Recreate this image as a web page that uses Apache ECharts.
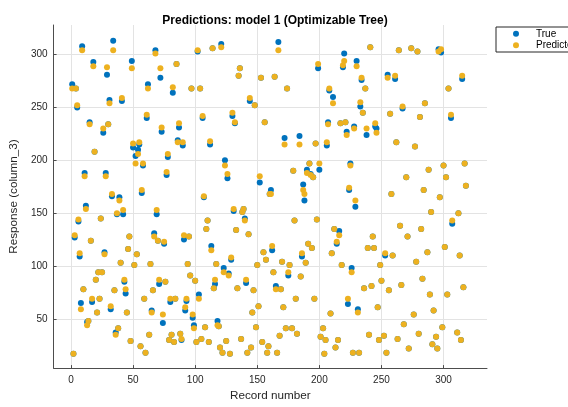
<!DOCTYPE html>
<html>
<head>
<meta charset="utf-8">
<script src="https://cdn.jsdelivr.net/npm/echarts@6/dist/echarts.min.js"></script>
<style>
html,body{margin:0;padding:0;background:#fff;}
#chart{width:568px;height:407px;}
</style>
</head>
<body>
<div id="chart"></div>
<script>
const chartTitle = 'Predictions: model 1 (Optimizable Tree)';
const xTicks = [0, 50, 100, 150, 200, 250, 300];
const yTicks = [50, 100, 150, 200, 250, 300];
const seriesNames = ['True', 'Predicted'];

const recordNumbers = [
  1,2,3,4,5,6,7,8,9,10,11,12,13,14,15,16,17,18,19,20,
  21,22,23,24,25,26,27,28,29,30,31,32,33,34,35,36,37,38,39,40,
  41,42,43,44,45,46,47,48,49,50,51,52,53,54,55,56,57,58,59,60,
  61,62,63,64,65,66,67,68,69,70,71,72,73,74,75,76,77,78,79,80,
  81,82,83,84,85,86,87,88,89,90,91,92,93,94,95,96,97,98,99,100,
  101,102,103,104,105,106,107,108,109,110,111,112,113,114,115,116,117,118,119,120,
  121,122,123,124,125,126,127,128,129,130,131,132,133,134,135,136,137,138,139,140,
  141,142,143,144,145,146,147,148,149,150,151,152,153,154,155,156,157,158,159,160,
  161,162,163,164,165,166,167,168,169,170,171,172,173,174,175,176,178,179,180,181,
  182,184,185,186,187,188,189,190,191,192,193,194,195,196,197,198,199,200,201,203,
  204,205,206,207,208,209,210,211,212,213,214,215,216,217,218,219,220,221,222,223,
  224,225,226,227,228,229,230,231,232,233,234,235,236,237,238,239,240,241,242,243,
  244,245,246,247,248,249,250,252,253,254,255,256,257,258,
  259,261,262,263,264,265,266,267,268,270,271,272,274,276,277,278,279,280,281,282,
  283,284,285,287,288,289,290,291,292,294,295,296,297,298,299,300,301,302,303,304,
  306,307,311,312,313,314,315,316,317,318,319
];
const trueValues = [
  272,17,127,268,250,142,109,65,308,78,188,157,47,48,236,124,66,293,208,87,
  56,94,69,145,94,226,113,188,281,234,257,59,166,313,77,37,149,41,165,103,
  256,149,85,74,56,116,128,29,294,212,101,204,111,210,215,24,169,195,69,18,
  240,272,35,102,58,77,131,304,149,124,83,278,227,46,121,85,186,203,30,66,
  35,264,28,69,291,219,231,36,30,214,125,58,67,102,128,91,268,51,44,86,
  28,303,73,268,31,240,165,42,135,143,28,215,119,306,79,83,102,48,43,23,
  310,18,98,200,29,183,93,17,106,242,152,235,134,79,280,287,31,151,154,145,
  84,18,130,256,23,56,77,252,42,101,62,179,278,28,113,236,106,18,24,168,
  172,115,94,279,81,18,312,34,78,104,61,221,41,268,91,101,41,190,143,69,
  36,223,90,109,177,162,103,191,121,197,187,117,184,69,216,144,287,191,33,
  41,17,30,214,236,266,55,112,260,135,23,121,30,133,235,101,288,301,236,227,
  64,172,197,98,18,232,156,294,59,18,251,276,245,79,268,224,117,35,307,81,
  128,117,232,230,61,30,101,86,34,110,18,281,77,244,
  168,110,277,217,31,304,138,82,249,45,184,128,22,306,54,213,104,303,36,241,
  135,88,172,254,113,191,73,151,26,58,33,22,305,165,302,42,195,118,184,73,
  268,240,140,37,150,110,30,277,80,197,176
];
const predictedValues = [
  268,17,129,268,252,144,112,59,304,78,185,154,44,48,234,124,69,289,208,87,
  56,94,69,145,94,230,111,185,288,234,254,62,168,304,77,35,150,41,162,103,
  259,153,87,78,56,116,128,29,287,216,101,197,111,206,217,24,172,197,69,18,
  243,268,35,102,56,77,128,301,153,124,87,287,231,54,123,85,189,206,30,69,
  35,269,28,69,291,217,235,36,31,217,129,61,69,102,128,91,268,54,41,86,
  28,304,69,268,31,242,166,42,135,143,28,218,115,306,79,87,102,44,43,23,
  307,18,94,195,29,187,91,17,108,245,154,236,134,79,280,287,31,151,154,143,
  87,18,130,259,23,56,77,252,42,101,62,185,278,28,113,236,106,18,24,168,
  168,119,94,279,78,18,304,34,78,104,61,215,41,268,94,101,41,190,143,69,
  36,215,90,112,172,168,103,188,121,197,186,117,184,69,216,144,291,197,33,
  41,17,30,217,234,268,55,112,254,135,23,123,30,129,235,101,290,294,236,224,
  69,174,195,94,18,230,162,289,56,18,255,278,245,79,268,230,117,35,307,81,
  128,117,235,226,61,30,101,86,34,112,18,278,77,244,
  168,110,280,217,31,304,138,82,251,45,184,128,22,306,54,213,104,303,36,241,
  135,88,172,254,113,191,73,151,26,58,33,22,303,165,305,42,195,118,184,73,
  268,243,143,37,150,110,30,280,80,197,176
];

const trueData = recordNumbers.map((r, i) => [r, trueValues[i]]);
const predData = recordNumbers.map((r, i) => [r, predictedValues[i]]);

const axisColor = '#4d4d4d';
const font = 'Liberation Sans, Arial, Helvetica, sans-serif';

const chart = echarts.init(document.getElementById('chart'), null, {renderer: 'canvas'});
chart.setOption({
  backgroundColor: '#ffffff',
  animation: false,
  title: {
    text: chartTitle,
    left: 270, top: 10, textAlign: 'center',
    textStyle: {fontFamily: font, fontSize: 12, fontWeight: 'bold', color: '#000'}
  },
  legend: {
    data: seriesNames,
    orient: 'vertical',
    left: 496, top: 27,
    icon: 'circle',
    itemWidth: 30, itemHeight: 6, itemGap: 0,
    padding: [1, 40, 1, 17],
    borderColor: '#262626', borderWidth: 1,
    textStyle: {fontFamily: font, fontSize: 10, color: '#000', lineHeight: 11.5}
  },
  grid: {left: 52.5, right: 81, top: 25, bottom: 32, containLabel: false},
  xAxis: {
    type: 'value', min: -14, max: 335,
    name: 'Record number', nameLocation: 'middle', nameGap: 20,
    nameTextStyle: {fontFamily: font, fontSize: 11.7, color: '#262626'},
    axisLine: {show: true, onZero: false, lineStyle: {color: axisColor, width: 1}},
    axisTick: {show: true, inside: true, length: 3, customValues: xTicks, lineStyle: {color: axisColor}},
    axisLabel: {customValues: xTicks, fontFamily: font, fontSize: 10, color: '#262626', margin: 7},
    splitLine: {show: true, lineStyle: {color: '#e3e3e3', width: 1}}
  },
  yAxis: {
    type: 'value', min: 3.4, max: 328,
    name: 'Response (column_3)', nameLocation: 'middle', nameGap: 23, nameRotate: 90,
    nameTextStyle: {fontFamily: font, fontSize: 11.7, color: '#262626'},
    axisLine: {show: true, onZero: false, lineStyle: {color: axisColor, width: 1}},
    axisTick: {show: true, inside: true, length: 3, customValues: yTicks, lineStyle: {color: axisColor}},
    axisLabel: {customValues: yTicks, fontFamily: font, fontSize: 10, color: '#262626', margin: 6},
    splitLine: {show: true, lineStyle: {color: '#e3e3e3', width: 1}}
  },
  series: [
    {name: seriesNames[0], type: 'scatter', data: trueData, symbol: 'circle', symbolSize: 6,
     itemStyle: {color: '#0072BD', opacity: 1}, z: 2},
    {name: seriesNames[1], type: 'scatter', data: predData, symbol: 'circle', symbolSize: 6,
     itemStyle: {color: '#EDB120', opacity: 1}, z: 3}
  ]
});
</script>
</body>
</html>
